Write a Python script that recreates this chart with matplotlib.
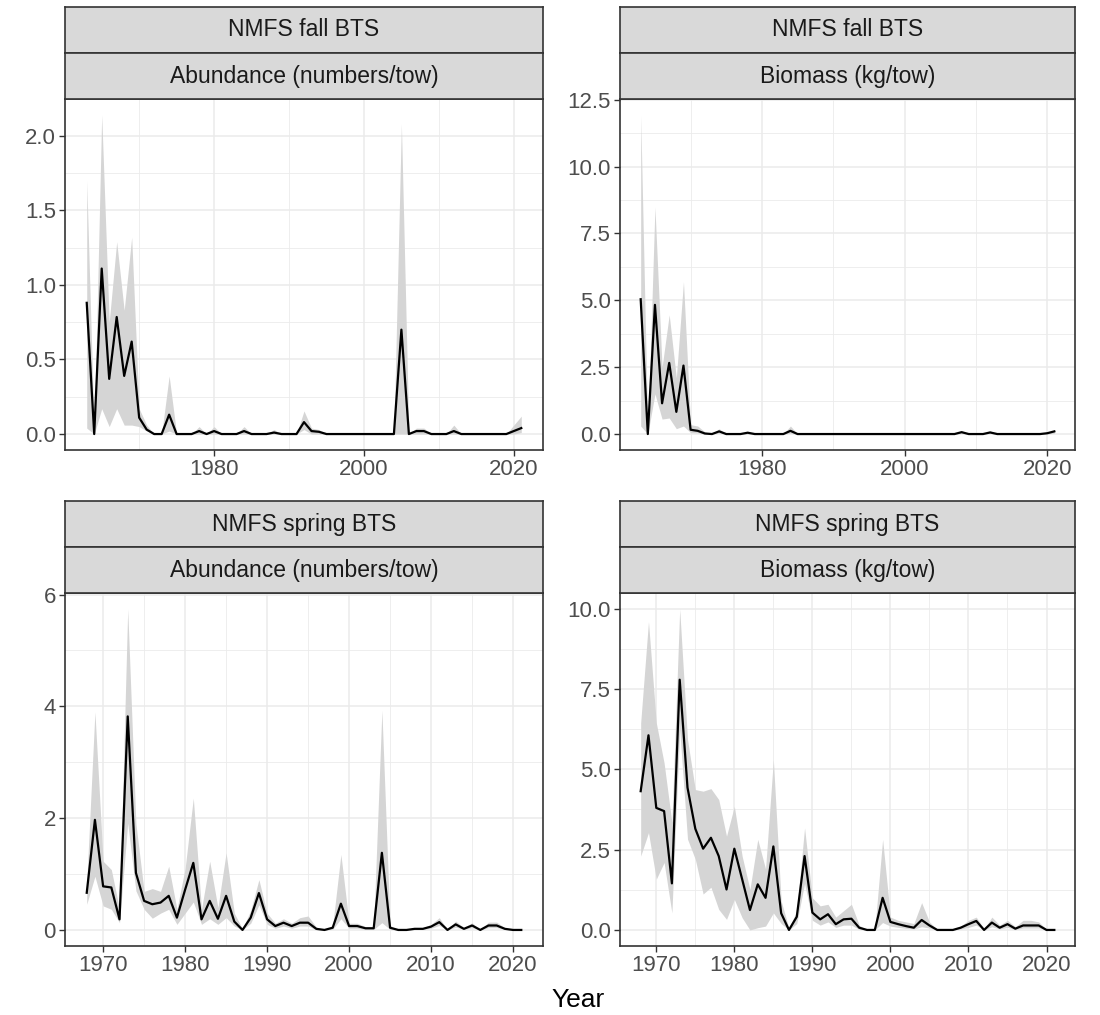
import matplotlib
matplotlib.use("Agg")
import matplotlib.pyplot as plt
import numpy as np
from matplotlib.ticker import MultipleLocator, FixedLocator

plt.rcParams['font.family'] = ['Liberation Sans', 'DejaVu Sans']

# ---- data ----
fall_years = list(range(1963, 2022))
spring_years = list(range(1968, 2022))

fall_abund = [0.88, 0.0, 1.11, 0.37, 0.785, 0.39, 0.62, 0.11, 0.03, 0.0,
              0.0, 0.13, 0.0, 0.0, 0.0, 0.02, 0.0, 0.02, 0.0, 0.0,
              0.0, 0.02, 0.0, 0.0, 0.0, 0.01, 0.0, 0.0, 0.0, 0.08,
              0.02, 0.015, 0.0, 0.0, 0.0, 0.0, 0.0, 0.0, 0.0, 0.0,
              0.0, 0.0, 0.70, 0.0, 0.02, 0.02, 0.0, 0.0, 0.0, 0.02,
              0.0, 0.0, 0.0, 0.0, 0.0, 0.0, 0.0, 0.02, 0.04]
fall_abund_hi = [1.70, 0.0, 2.14, 0.75, 1.29, 0.83, 1.32, 0.17, 0.06, 0.0,
                 0.0, 0.39, 0.0, 0.0, 0.0, 0.05, 0.0, 0.05, 0.0, 0.0,
                 0.0, 0.05, 0.0, 0.0, 0.0, 0.03, 0.0, 0.0, 0.0, 0.155,
                 0.04, 0.03, 0.0, 0.0, 0.0, 0.0, 0.0, 0.0, 0.0, 0.0,
                 0.0, 0.0, 2.08, 0.0, 0.04, 0.04, 0.0, 0.0, 0.0, 0.06,
                 0.0, 0.0, 0.0, 0.0, 0.0, 0.0, 0.0, 0.06, 0.12]
fall_abund_lo = [0.04, 0.0, 0.17, 0.05, 0.17, 0.06, 0.06, 0.05, 0.02, 0.0,
                 0.0, 0.02, 0.0, 0.0, 0.0, 0.0, 0.0, 0.0, 0.0, 0.0,
                 0.0, 0.0, 0.0, 0.0, 0.0, 0.0, 0.0, 0.0, 0.0, 0.03,
                 0.0, 0.0, 0.0, 0.0, 0.0, 0.0, 0.0, 0.0, 0.0, 0.0,
                 0.0, 0.0, 0.0, 0.0, 0.0, 0.0, 0.0, 0.0, 0.0, 0.0,
                 0.0, 0.0, 0.0, 0.0, 0.0, 0.0, 0.0, 0.0, 0.01]

fall_bio = [5.04, 0.0, 4.83, 1.15, 2.66, 0.83, 2.56, 0.16, 0.12, 0.02,
            0.0, 0.1, 0.0, 0.0, 0.0, 0.05, 0.0, 0.0, 0.0, 0.0,
            0.0, 0.12, 0.0, 0.0, 0.0, 0.0, 0.0, 0.0, 0.0, 0.0,
            0.0, 0.0, 0.0, 0.0, 0.0, 0.0, 0.0, 0.0, 0.0, 0.0,
            0.0, 0.0, 0.0, 0.0, 0.0, 0.07, 0.0, 0.0, 0.0, 0.06,
            0.0, 0.0, 0.0, 0.0, 0.0, 0.0, 0.0, 0.03, 0.1]
fall_bio_hi = [11.93, 0.0, 8.49, 2.5, 4.46, 2.1, 5.70, 0.35, 0.3, 0.08,
               0.0, 0.2, 0.0, 0.0, 0.0, 0.1, 0.0, 0.0, 0.0, 0.0,
               0.0, 0.3, 0.0, 0.0, 0.0, 0.0, 0.0, 0.0, 0.0, 0.0,
               0.0, 0.0, 0.0, 0.0, 0.0, 0.0, 0.0, 0.0, 0.0, 0.0,
               0.0, 0.0, 0.0, 0.0, 0.0, 0.12, 0.0, 0.0, 0.0, 0.12,
               0.0, 0.0, 0.0, 0.0, 0.0, 0.0, 0.0, 0.06, 0.15]
fall_bio_lo = [0.3, 0.0, 1.5, 0.56, 0.6, 0.2, 0.3, 0.05, 0.04, 0.0,
               0.0, 0.03, 0.0, 0.0, 0.0, 0.0, 0.0, 0.0, 0.0, 0.0,
               0.0, 0.03, 0.0, 0.0, 0.0, 0.0, 0.0, 0.0, 0.0, 0.0,
               0.0, 0.0, 0.0, 0.0, 0.0, 0.0, 0.0, 0.0, 0.0, 0.0,
               0.0, 0.0, 0.0, 0.0, 0.0, 0.02, 0.0, 0.0, 0.0, 0.02,
               0.0, 0.0, 0.0, 0.0, 0.0, 0.0, 0.0, 0.0, 0.03]

spring_abund = [0.665, 1.97, 0.78, 0.76, 0.19, 3.82, 1.02, 0.52, 0.46, 0.49,
                0.61, 0.22, 0.72, 1.20, 0.19, 0.52, 0.2, 0.61, 0.15, 0.0,
                0.22, 0.66, 0.19, 0.07, 0.13, 0.07, 0.13, 0.13, 0.02, 0.0,
                0.04, 0.47, 0.07, 0.07, 0.03, 0.03, 1.38, 0.04, 0.0, 0.0,
                0.02, 0.02, 0.06, 0.14, 0.0, 0.1, 0.02, 0.08, 0.0, 0.08,
                0.08, 0.02, 0.0, 0.0]
spring_abund_hi = [0.84, 3.90, 1.23, 1.08, 0.37, 5.74, 1.9, 0.69, 0.74, 0.69,
                   1.14, 0.37, 1.1, 2.36, 0.37, 1.23, 0.4, 1.38, 0.3, 0.02,
                   0.35, 0.9, 0.3, 0.12, 0.2, 0.12, 0.22, 0.25, 0.05, 0.0,
                   0.08, 1.35, 0.12, 0.12, 0.06, 0.06, 3.93, 0.08, 0.0, 0.0,
                   0.04, 0.04, 0.1, 0.22, 0.0, 0.16, 0.04, 0.13, 0.0, 0.14,
                   0.14, 0.04, 0.0, 0.0]
spring_abund_lo = [0.46, 0.96, 0.43, 0.37, 0.13, 1.91, 0.7, 0.37, 0.21, 0.3,
                   0.37, 0.1, 0.3, 0.5, 0.1, 0.2, 0.1, 0.22, 0.07, 0.0,
                   0.12, 0.45, 0.1, 0.03, 0.07, 0.03, 0.07, 0.07, 0.0, 0.0,
                   0.01, 0.2, 0.03, 0.03, 0.01, 0.01, 0.13, 0.01, 0.0, 0.0,
                   0.01, 0.01, 0.03, 0.08, 0.0, 0.05, 0.01, 0.04, 0.0, 0.04,
                   0.04, 0.01, 0.0, 0.0]

spring_bio = [4.32, 6.06, 3.80, 3.70, 1.45, 7.79, 4.43, 3.15, 2.53, 2.87,
              2.3, 1.26, 2.53, 1.58, 0.62, 1.42, 1.0, 2.6, 0.52, 0.0,
              0.41, 2.3, 0.54, 0.33, 0.49, 0.18, 0.33, 0.35, 0.07, 0.0,
              0.0, 1.0, 0.25, 0.18, 0.12, 0.07, 0.31, 0.14, 0.0, 0.0,
              0.0, 0.07, 0.18, 0.28, 0.0, 0.23, 0.07, 0.18, 0.04, 0.14,
              0.14, 0.14, 0.0, 0.0]
spring_bio_hi = [6.45, 9.6, 6.45, 5.2, 3.35, 9.99, 5.93, 4.37, 4.32, 4.4,
                 4.06, 2.92, 3.85, 2.3, 1.26, 2.82, 1.9, 5.3, 0.9, 0.05,
                 0.6, 3.18, 1.0, 0.75, 0.8, 0.4, 0.6, 0.8, 0.15, 0.0,
                 0.02, 2.82, 0.4, 0.3, 0.25, 0.2, 0.85, 0.25, 0.02, 0.02,
                 0.03, 0.12, 0.3, 0.4, 0.04, 0.4, 0.15, 0.3, 0.1, 0.3,
                 0.3, 0.25, 0.02, 0.02]
spring_bio_lo = [2.3, 3.03, 1.58, 2.1, 0.53, 6.24, 2.83, 2.2, 1.12, 1.33,
                 0.64, 0.33, 0.95, 0.38, 0.0, 0.07, 0.12, 0.53, 0.2, 0.0,
                 0.2, 1.45, 0.3, 0.15, 0.25, 0.08, 0.15, 0.15, 0.02, 0.0,
                 0.0, 0.23, 0.12, 0.08, 0.05, 0.03, 0.1, 0.06, 0.0, 0.0,
                 0.0, 0.03, 0.08, 0.15, 0.0, 0.1, 0.03, 0.08, 0.01, 0.06,
                 0.06, 0.06, 0.0, 0.0]

surveys = ["NMFS fall BTS", "NMFS fall BTS", "NMFS spring BTS", "NMFS spring BTS"]
metrics = ["Abundance (numbers/tow)", "Biomass (kg/tow)",
           "Abundance (numbers/tow)", "Biomass (kg/tow)"]

# ---- layout ----
W, H = 1100, 1015
fig = plt.figure(figsize=(W / 100, H / 100), dpi=100)


def box(x0, y0, x1, y1):
    return [x0 / W, 1 - y1 / H, (x1 - x0) / W, (y1 - y0) / H]


panels = [
    dict(x=(65, 543), y=(99, 450), years=fall_years, v=fall_abund, lo=fall_abund_lo, hi=fall_abund_hi,
         xt=[1980, 2000, 2020], xm=10, yt=[0, 0.5, 1.0, 1.5, 2.0], fmt="{:.1f}"),
    dict(x=(620, 1075), y=(99, 450), years=fall_years, v=fall_bio, lo=fall_bio_lo, hi=fall_bio_hi,
         xt=[1980, 2000, 2020], xm=10, yt=[0, 2.5, 5.0, 7.5, 10.0, 12.5], fmt="{:.1f}"),
    dict(x=(65, 543), y=(593, 946), years=spring_years, v=spring_abund, lo=spring_abund_lo, hi=spring_abund_hi,
         xt=[1970, 1980, 1990, 2000, 2010, 2020], xm=5, yt=[0, 2, 4, 6], fmt="{:.0f}"),
    dict(x=(620, 1075), y=(593, 946), years=spring_years, v=spring_bio, lo=spring_bio_lo, hi=spring_bio_hi,
         xt=[1970, 1980, 1990, 2000, 2010, 2020], xm=5, yt=[0, 2.5, 5.0, 7.5, 10.0], fmt="{:.1f}"),
]

border = '#333333'
strip_h = 46

for i, p in enumerate(panels):
    x0, x1 = p['x']
    y0, y1 = p['y']
    ax = fig.add_axes(box(x0, y0, x1, y1))

    yrs = np.array(p['years'])
    v = np.array(p['v'])
    lo = np.array(p['lo'])
    hi = np.array(p['hi'])

    ax.fill_between(yrs, lo, hi, color='#D5D5D5', lw=0, zorder=2)
    ax.plot(yrs, v, color='black', lw=1.6, zorder=3)

    # ggplot-like 5% expansion
    xr = yrs.max() - yrs.min()
    ax.set_xlim(yrs.min() - 0.05 * xr, yrs.max() + 0.05 * xr)
    ymin = min(lo.min(), v.min())
    ymax = max(hi.max(), v.max())
    yr = ymax - ymin
    ax.set_ylim(ymin - 0.05 * yr, ymax + 0.05 * yr)

    ax.xaxis.set_major_locator(FixedLocator(p['xt']))
    ax.xaxis.set_minor_locator(MultipleLocator(p['xm']))
    ax.yaxis.set_major_locator(FixedLocator(p['yt']))
    ystep = p['yt'][1] - p['yt'][0]
    ax.yaxis.set_minor_locator(MultipleLocator(ystep / 2))
    ax.set_yticklabels([p['fmt'].format(t) for t in p['yt']])

    ax.grid(which='major', color='#EBEBEB', lw=1.1, zorder=0)
    ax.grid(which='minor', color='#EBEBEB', lw=0.6, zorder=0)
    ax.set_axisbelow(True)
    ax.tick_params(which='major', direction='out', length=4, width=1, color=border,
                   labelcolor='#4D4D4D', labelsize=16, pad=2.5)
    ax.tick_params(which='minor', length=0)
    for s in ax.spines.values():
        s.set_color(border)
        s.set_linewidth(1.2)

    # facet strips
    for k, label in enumerate([surveys[i], metrics[i]]):
        top = y0 - strip_h * (2 - k)
        sa = fig.add_axes(box(x0, top, x1, top + strip_h))
        sa.set_facecolor('#D9D9D9')
        sa.set_xticks([])
        sa.set_yticks([])
        for s in sa.spines.values():
            s.set_color(border)
            s.set_linewidth(1.2)
        sa.text(0.5, 0.5, label, ha='center', va='center', fontsize=16.5,
                color='#1A1A1A', transform=sa.transAxes)

fig.text(578 / W, 1 - 1000 / H, "Year", ha='center', va='center', fontsize=19, color='black')

fig.savefig("out.png", dpi=100, facecolor='white')
